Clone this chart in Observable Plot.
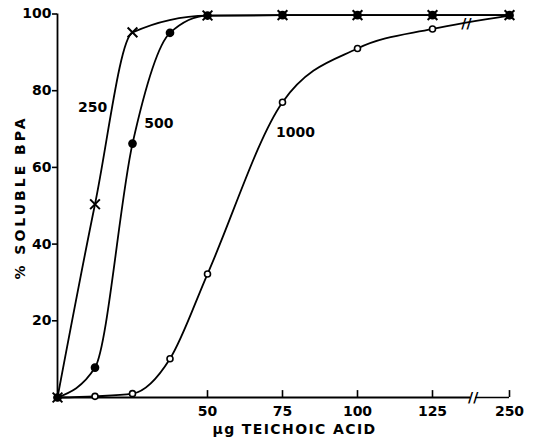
<!DOCTYPE html>
<html><head><meta charset="utf-8">
<script src="https://cdn.jsdelivr.net/npm/d3@7"></script>
<script src="https://cdn.jsdelivr.net/npm/@observablehq/plot@0.6"></script>
<style>body{margin:0;background:#fff} svg{display:block}</style>
</head><body><div id="chart"></div>
<script>
// Dose of teichoic acid (µg) and % soluble BPA for three BPA amounts
const dose250 = [0, 12.5, 25, 50, 75, 100, 125, 250];
const pct250  = [0, 50.4, 95.2, 99.6, 99.7, 99.7, 99.7, 99.7];
const dose500 = [0, 12.5, 25, 37.5, 50, 75, 100, 125, 250];
const pct500  = [0, 7.8, 66.2, 95.1, 99.6, 99.7, 99.7, 99.7, 99.7];
const dose1000 = [0, 12.5, 25, 37.5, 50, 75, 100, 125, 250];
const pct1000  = [0, 0.3, 1.0, 10.1, 32.2, 77.0, 91.0, 96.1, 99.6];

const seriesNames = ["250", "500", "1000"];
const labelX = [11.7, 33.8, 79.3];
const labelY = [75.6, 71.4, 69.1];

const xTicks = [50, 75, 100, 125, 250];
const yTicks = [20, 40, 60, 80, 100];
const xTitle = "\u03bcg TEICHOIC ACID";
const yTitle = "% SOLUBLE BPA";
const axisBreak = 191;     // break on the dose axis between 125 and 250
const curveBreak = 180;    // break drawn on the 1000 curve

const rows = (xs, ys, s) => xs.map((x, i) => ({dose: x, pct: ys[i], series: s}));
const d250 = rows(dose250, pct250, "250");
const d500 = rows(dose500, pct500, "500");
const d1000 = rows(dose1000, pct1000, "1000");
const labels = seriesNames.map((s, i) => ({s, x: labelX[i], y: labelY[i]}));
const curveBreakY = d3.scaleLinear().domain([125, 250]).range([pct1000[7], pct1000[8]])(curveBreak);

const font = "DejaVu Sans";
const chart = Plot.plot({
  width: 536,
  height: 441,
  marginLeft: 57, marginRight: 27, marginTop: 13, marginBottom: 44,
  style: {fontFamily: font, fontSize: "14px", fontWeight: "bold", background: "#fff", color: "#000"},
  x: {type: "linear", domain: [0, 125, 250], range: [57, 432, 509]},
  y: {type: "linear", domain: [0, 100], range: [397, 13.5]},
  marks: [
    // axes lines
    Plot.ruleX([0], {y1: 0, y2: 100, stroke: "#000", strokeWidth: 1.8}),
    Plot.ruleY([0], {x1: 0, x2: axisBreak - 4, stroke: "#000", strokeWidth: 1.8}),
    Plot.ruleY([0], {x1: axisBreak + 4, x2: 250, stroke: "#000", strokeWidth: 1.5}),
    Plot.ruleX(xTicks, {y1: 0, y2: 1.8, stroke: "#000", strokeWidth: 1.6}),
    Plot.axisY(yTicks, {tickSize: 5, tickPadding: 1, label: null, strokeWidth: 1.6, fontSize: 14}),
    Plot.axisX(xTicks, {tickSize: 0, tickPadding: 9, label: null, fontSize: 14}),
    Plot.text([axisBreak], {x: d => d, y: 0, text: () => "//", fontSize: 14, fontWeight: "bold", fill: "#000"}),
    // curves
    Plot.line(d250, {x: "dose", y: "pct", curve: "monotone-x", stroke: "#000", strokeWidth: 1.8}),
    Plot.line(d500, {x: "dose", y: "pct", curve: "monotone-x", stroke: "#000", strokeWidth: 1.8}),
    Plot.line(d1000, {x: "dose", y: "pct", curve: "monotone-x", stroke: "#000", strokeWidth: 1.8}),
    Plot.text([curveBreak], {x: d => d, y: curveBreakY, text: () => "//", fontSize: 14, fontWeight: "bold", fill: "#000"}),
    // markers
    Plot.dot(d1000, {x: "dose", y: "pct", r: 3, fill: "#fff", stroke: "#000", strokeWidth: 1.6}),
    Plot.dot(d500, {x: "dose", y: "pct", r: 3.6, fill: "#000", stroke: "#000"}),
    Plot.dot(d250, {x: "dose", y: "pct", r: 4.5, symbol: "times", stroke: "#000", strokeWidth: 2}),
    // series labels
    Plot.text(labels, {x: "x", y: "y", text: "s", fontSize: 14, fontWeight: "bold", fill: "#000"}),
    // axis titles
    Plot.text([yTitle], {frameAnchor: "left", textAnchor: "middle", dx: -37, dy: -8, rotate: -90, fontSize: 14, fontWeight: "bold", fill: "#000"}),
    Plot.text([xTitle], {frameAnchor: "bottom", textAnchor: "middle", dx: 11, dy: 36, fontSize: 14, fontWeight: "bold", fill: "#000"})
  ]
});
// letter spacing for the axis titles
d3.select(chart).selectAll("text").each(function() {
  const t = this.textContent;
  if (t === yTitle) this.style.letterSpacing = "3px";
  if (t === xTitle) this.style.letterSpacing = "1.4px";
});
document.getElementById("chart").appendChild(chart);
</script>
</body></html>
